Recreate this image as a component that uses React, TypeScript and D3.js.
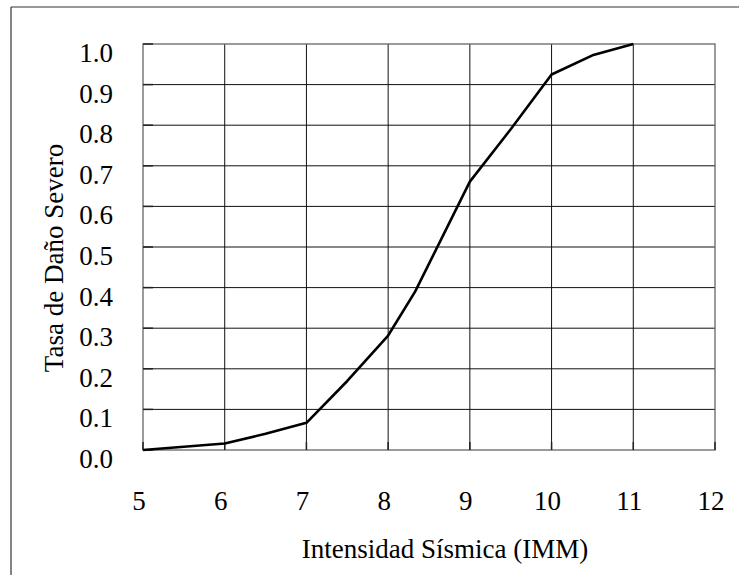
import React from "react";
import * as d3 from "d3";

const intensity = [5, 6, 6.5, 7, 7.5, 8, 8.33, 9, 9.5, 10, 10.5, 11];
const damageRate = [0.0, 0.016, 0.04, 0.067, 0.17, 0.282, 0.39, 0.661, 0.79, 0.925, 0.972, 1.0];
const xTicks = [5, 6, 7, 8, 9, 10, 11, 12];
const yTicks = [0, 0.1, 0.2, 0.3, 0.4, 0.5, 0.6, 0.7, 0.8, 0.9, 1.0];
const xTitle = "Intensidad Sísmica (IMM)";
const yTitle = "Tasa de Daño Severo";

export default function App() {
  const W = 739, H = 575;
  const left = 143, right = 715, top = 44, bottom = 450;
  const x = d3.scaleLinear().domain([5, 12]).range([left, right]);
  const y = d3.scaleLinear().domain([0, 1]).range([bottom, top]);
  const line = d3.line<number>().x((_, i) => x(intensity[i])).y((d) => y(d));
  const font = "'Liberation Serif', 'Times New Roman', serif";
  return (
    <svg width={W} height={H} style={{ position: "absolute", left: 0, top: 0, background: "#fff" }}>
      <rect x={0} y={0} width={W} height={H} fill="#fff" />
      <line x1={11} y1={7} x2={W} y2={7} stroke="#333" strokeWidth={1.2} />
      <line x1={11} y1={7} x2={11} y2={H} stroke="#333" strokeWidth={1.2} />
      {xTicks.slice(1, -1).map((t) => (
        <line key={"gx" + t} x1={x(t)} x2={x(t)} y1={top} y2={bottom} stroke="#111" strokeWidth={1} />
      ))}
      {yTicks.slice(1, -1).map((t) => (
        <line key={"gy" + t} x1={left} x2={right} y1={y(t)} y2={y(t)} stroke="#111" strokeWidth={1} />
      ))}
      <rect x={left} y={top} width={right - left} height={bottom - top} fill="none" stroke="#666" strokeWidth={1.3} />
      {yTicks.map((t) => (
        <line key={"ty" + t} x1={left} x2={left + 10} y1={y(t)} y2={y(t)} stroke="#222" strokeWidth={1.5} />
      ))}
      {xTicks.map((t) => (
        <line key={"tx" + t} x1={x(t)} x2={x(t)} y1={bottom} y2={bottom - 8} stroke="#222" strokeWidth={1.5} />
      ))}
      <path d={line(damageRate) || ""} fill="none" stroke="#000" strokeWidth={2.6} strokeLinejoin="round" />
      {yTicks.map((t) => (
        <text key={"ly" + t} x={113} y={y(t) + 18} textAnchor="end" fontFamily={font} fontSize={27} fill="#000">
          {t.toFixed(1)}
        </text>
      ))}
      {xTicks.map((t) => (
        <text key={"lx" + t} x={x(t) - 4} y={510} textAnchor="middle" fontFamily={font} fontSize={27} fill="#000">
          {t}
        </text>
      ))}
      <text x={445} y={558} textAnchor="middle" fontFamily={font} fontSize={27} fill="#000">
        {xTitle}
      </text>
      <text transform={`translate(63,258) rotate(-90)`} textAnchor="middle" fontFamily={font} fontSize={27} fill="#000">
        {yTitle}
      </text>
    </svg>
  );
}
